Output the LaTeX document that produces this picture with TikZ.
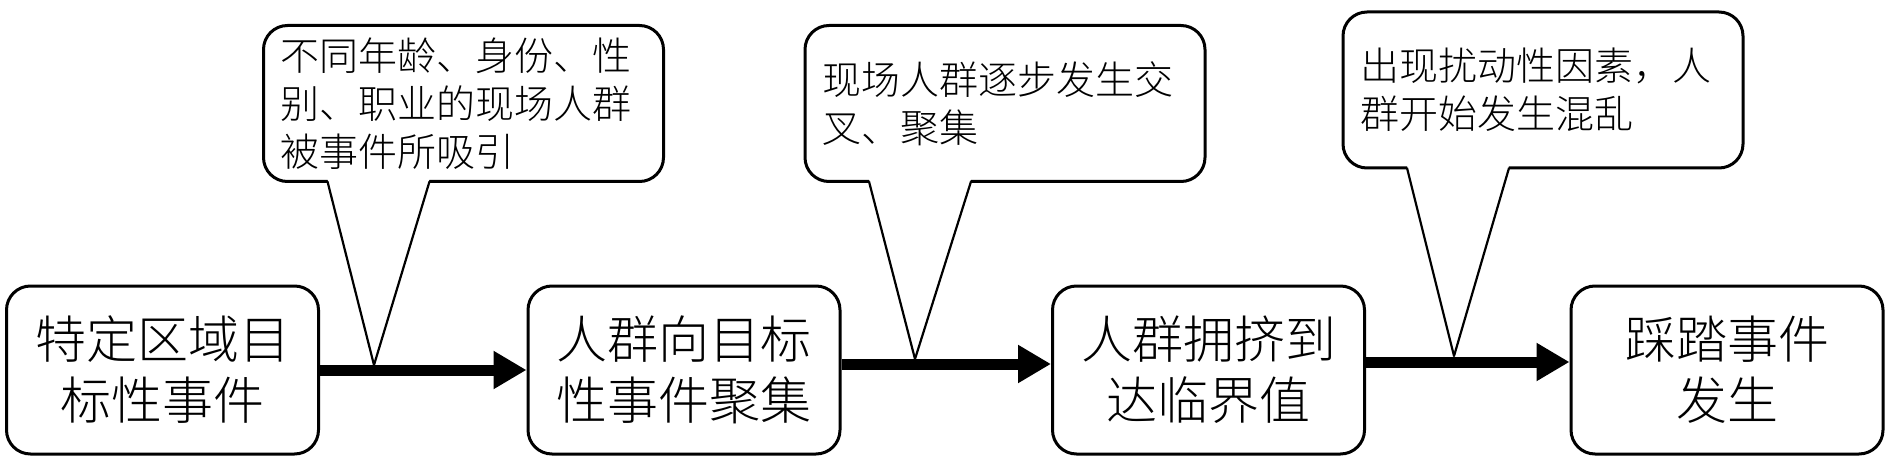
\documentclass[tikz,border=0pt]{standalone}
\usepackage{fontspec}
\setmainfont{Noto Sans CJK SC}[UprightFont={* Light}]
\usetikzlibrary{arrows.meta}
\begin{document}
\begin{tikzpicture}[x=0.5pt,y=0.5pt,line join=round,>={Triangle[length=16.5pt,width=18pt]}]
			\tikzset{stage/.style={draw,line width=1.5pt,rounded corners=12pt,minimum width=156pt,minimum height=84pt,align=center,font=\fontsize{25.5pt}{30.5pt}\selectfont},
				note/.style={draw,line width=1.5pt,rounded corners=12pt,fill=white,text width=183pt,inner xsep=8.5pt,minimum height=78pt,align=left,font=\fontsize{19.5pt}{24pt}\selectfont},
				flow/.style={->,line width=5.5pt}}
			\useasboundingbox (0,0) rectangle (1889,461);
			\node[stage] (b1) at (162.5,91) {特定区域目\\标性事件};
			\node[stage] (b2) at (684,91) {人群向目标\\性事件聚集};
			\node[stage] (b3) at (1208.5,91) {人群拥挤到\\达临界值};
			\node[stage] (b4) at (1727,91) {踩踏事件\\发生};
			\node[note] (c1) at (463.5,357.5) {不同年龄、身份、性\\别、职业的现场人群\\被事件所吸引};
			\node[note] (c2) at (1005,357.5) {现场人群逐步发生交\\叉、聚集};
			\node[note] (c3) at (1543,371) {出现扰动性因素，人\\群开始发生混乱};
			\coordinate (t1) at (374,96);
			\coordinate (t2) at (915,102);
			\coordinate (t3) at (1454,105);
			\foreach \c/\t in {c1/t1,c2/t2,c3/t3}{
				\fill[white] ([xshift=-68pt,yshift=2pt]\c.south) -- (\t) -- ([xshift=-17pt,yshift=2pt]\c.south) -- cycle;
				\draw[line width=1.1pt] ([xshift=-68pt,yshift=0.75pt]\c.south) -- (\t) -- ([xshift=-17pt,yshift=0.75pt]\c.south);
			}
			\draw[flow] (b1) -- (b2);
			\draw[flow] ([yshift=3pt]b2.east) -- ([yshift=3pt]b3.west);
			\draw[flow] ([yshift=4pt]b3.east) -- ([yshift=4pt]b4.west);
\end{tikzpicture}
\end{document}
